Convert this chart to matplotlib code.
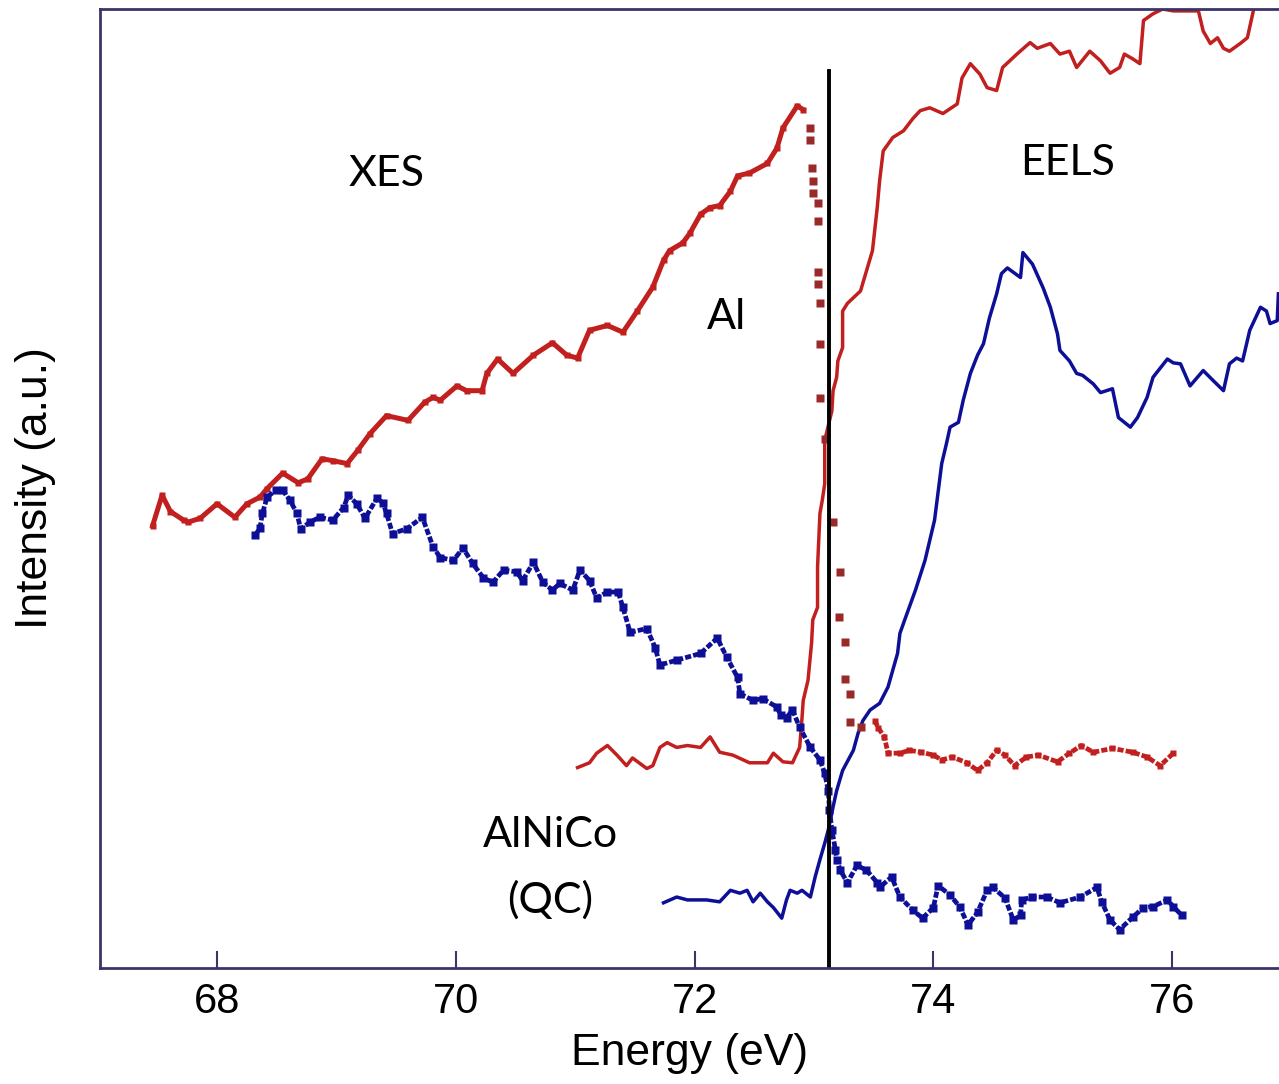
import matplotlib
matplotlib.use("Agg")
import matplotlib.pyplot as plt

# ---------------- data (energy in eV, intensity in a.u.) ----------------
# XES Al (red, dotted) - rising part up to the peak
xes_al_rise_E = [67.46, 67.54, 67.61, 67.72, 67.76, 67.86, 68.00, 68.15, 68.25, 68.36, 68.42,
                 68.55, 68.68, 68.76, 68.88, 68.97, 69.09, 69.18, 69.28, 69.42, 69.60, 69.74,
                 69.81, 69.87, 70.01, 70.09, 70.22, 70.26, 70.35, 70.48, 70.65, 70.81, 70.93,
                 71.02, 71.12, 71.27, 71.40, 71.52, 71.65, 71.74, 71.79, 71.90, 71.96, 72.05,
                 72.13, 72.21, 72.30, 72.36, 72.46, 72.61, 72.69, 72.74, 72.86, 72.91]
xes_al_rise_I = [4.61, 4.93, 4.76, 4.67, 4.65, 4.69, 4.84, 4.70, 4.84, 4.91, 5.00,
                 5.16, 5.06, 5.10, 5.31, 5.29, 5.26, 5.40, 5.57, 5.76, 5.71, 5.90,
                 5.95, 5.92, 6.07, 6.02, 6.02, 6.20, 6.35, 6.20, 6.39, 6.52, 6.39,
                 6.36, 6.65, 6.70, 6.63, 6.85, 7.10, 7.38, 7.48, 7.56, 7.66, 7.86,
                 7.93, 7.95, 8.10, 8.26, 8.29, 8.39, 8.55, 8.76, 8.99, 8.95]
# XES Al - steep fall after the peak (isolated points)
xes_al_fall_E = [72.97, 72.97, 72.98, 72.99, 72.99, 73.03, 73.03, 73.03, 73.03, 73.05, 73.05,
                 73.05, 73.09, 73.16, 73.22, 73.21, 73.26, 73.26, 73.30, 73.30, 73.39]
xes_al_fall_I = [8.76, 8.63, 8.34, 8.21, 8.08, 7.98, 7.79, 7.26, 7.13, 6.93, 6.51,
                 5.94, 5.52, 4.65, 4.13, 3.66, 3.40, 3.01, 2.86, 2.56, 2.51]
# XES Al - flat tail
xes_al_tail_E = [73.51, 73.54, 73.59, 73.62, 73.72, 73.80, 73.90, 74.00, 74.07, 74.16, 74.28,
                 74.37, 74.45, 74.53, 74.60, 74.68, 74.78, 74.88, 75.04, 75.14, 75.24, 75.34,
                 75.50, 75.67, 75.79, 75.90, 76.01]
xes_al_tail_I = [2.58, 2.50, 2.41, 2.24, 2.24, 2.27, 2.25, 2.22, 2.17, 2.20, 2.14,
                 2.06, 2.14, 2.27, 2.22, 2.11, 2.20, 2.22, 2.15, 2.24, 2.32, 2.25,
                 2.29, 2.25, 2.20, 2.11, 2.24]

# XES AlNiCo (blue, dotted)
xes_qc_E = [68.32, 68.36, 68.38, 68.42, 68.49, 68.55, 68.61, 68.67, 68.70, 68.78, 68.86,
            68.97, 69.06, 69.10, 69.17, 69.24, 69.34, 69.39, 69.42, 69.47, 69.59, 69.72,
            69.81, 69.87, 69.98, 70.06, 70.14, 70.23, 70.31, 70.40, 70.51, 70.56, 70.65,
            70.73, 70.81, 70.87, 70.98, 71.04, 71.12, 71.18, 71.27, 71.36, 71.40, 71.46,
            71.60, 71.67, 71.71, 71.85, 72.05, 72.19, 72.27, 72.36, 72.38, 72.49, 72.57,
            72.69, 72.72, 72.77, 72.82, 72.88, 72.97, 73.05, 73.09, 73.12, 73.13, 73.15,
            73.18, 73.19, 73.22, 73.28, 73.36, 73.44, 73.53, 73.55, 73.65, 73.72, 73.83,
            73.91, 74.00, 74.04, 74.14, 74.22, 74.29, 74.37, 74.45, 74.50, 74.60, 74.67,
            74.73, 74.74, 74.83, 74.95, 75.06, 75.23, 75.37, 75.41, 75.48, 75.56, 75.67,
            75.76, 75.84, 75.96, 76.01, 76.08]
xes_qc_I = [4.51, 4.59, 4.74, 4.91, 4.98, 4.98, 4.88, 4.74, 4.58, 4.65, 4.70,
            4.67, 4.80, 4.93, 4.84, 4.69, 4.90, 4.85, 4.74, 4.53, 4.58, 4.70,
            4.39, 4.28, 4.25, 4.38, 4.22, 4.07, 4.02, 4.15, 4.13, 4.04, 4.23,
            4.02, 3.94, 4.01, 3.94, 4.15, 4.04, 3.86, 3.92, 3.92, 3.76, 3.50,
            3.54, 3.34, 3.16, 3.21, 3.28, 3.44, 3.24, 3.03, 2.86, 2.79, 2.81,
            2.72, 2.64, 2.61, 2.69, 2.51, 2.30, 2.17, 2.03, 1.85, 1.65, 1.44,
            1.23, 1.13, 1.02, 0.89, 1.07, 1.02, 0.89, 0.84, 0.95, 0.74, 0.60,
            0.52, 0.63, 0.86, 0.76, 0.64, 0.45, 0.58, 0.81, 0.84, 0.73, 0.50,
            0.55, 0.71, 0.74, 0.74, 0.68, 0.74, 0.84, 0.69, 0.50, 0.40, 0.53,
            0.63, 0.64, 0.71, 0.64, 0.55]

# EELS Al (red, solid)
eels_al_E = [71.02, 71.12, 71.18, 71.27, 71.35, 71.43, 71.48, 71.60, 71.65, 71.71, 71.77,
             71.85, 71.94, 72.05, 72.13, 72.21, 72.32, 72.46, 72.61, 72.66, 72.74, 72.82,
             72.88, 72.90, 72.91, 72.95, 72.98, 72.99, 73.03, 73.03, 73.05, 73.07, 73.09,
             73.09, 73.15, 73.16, 73.19, 73.20, 73.24, 73.24, 73.28, 73.39, 73.44, 73.49,
             73.53, 73.55, 73.58, 73.66, 73.75, 73.83, 73.89, 73.97, 74.08, 74.20, 74.24,
             74.31, 74.39, 74.45, 74.53, 74.58, 74.70, 74.81, 74.87, 74.98, 75.06, 75.14,
             75.20, 75.31, 75.40, 75.48, 75.56, 75.60, 75.67, 75.73, 75.76, 75.84, 75.92,
             76.01, 76.12, 76.22, 76.26, 76.32, 76.38, 76.43, 76.48, 76.57, 76.63, 76.68,
             76.71]
eels_al_I = [2.09, 2.14, 2.24, 2.32, 2.22, 2.11, 2.19, 2.08, 2.11, 2.30, 2.35,
             2.30, 2.32, 2.30, 2.41, 2.25, 2.22, 2.14, 2.14, 2.24, 2.15, 2.14,
             2.30, 2.61, 2.79, 3.00, 3.39, 3.63, 3.76, 4.18, 4.74, 4.88, 5.05,
             5.50, 5.81, 6.02, 6.16, 6.33, 6.47, 6.85, 6.93, 7.06, 7.27, 7.48,
             7.93, 8.21, 8.52, 8.66, 8.73, 8.86, 8.94, 8.97, 8.91, 9.01, 9.28,
             9.43, 9.32, 9.18, 9.15, 9.39, 9.53, 9.65, 9.59, 9.64, 9.53, 9.56,
             9.39, 9.56, 9.46, 9.33, 9.39, 9.53, 9.48, 9.43, 9.88, 9.95, 10.00,
             9.98, 9.98, 9.98, 9.77, 9.64, 9.70, 9.59, 9.56, 9.64, 9.70, 9.98,
             10.19]

# EELS AlNiCo (blue, solid)
eels_qc_E = [71.74, 71.85, 71.94, 72.10, 72.21, 72.30, 72.38, 72.44, 72.49, 72.55, 72.61,
             72.66, 72.73, 72.77, 72.80, 72.86, 72.90, 72.97, 73.01, 73.05, 73.09, 73.12,
             73.16, 73.19, 73.24, 73.33, 73.37, 73.41, 73.47, 73.55, 73.62, 73.70, 73.72,
             73.76, 73.85, 73.93, 74.01, 74.07, 74.11, 74.14, 74.21, 74.25, 74.31, 74.37,
             74.42, 74.47, 74.53, 74.57, 74.62, 74.73, 74.75, 74.83, 74.92, 74.98, 75.04,
             75.06, 75.14, 75.20, 75.25, 75.34, 75.40, 75.50, 75.55, 75.65, 75.71, 75.79,
             75.84, 75.96, 76.01, 76.07, 76.15, 76.26, 76.34, 76.43, 76.48, 76.54, 76.59,
             76.65, 76.74, 76.79, 76.82, 76.88, 76.89]
eels_qc_I = [0.68, 0.74, 0.71, 0.71, 0.69, 0.81, 0.78, 0.81, 0.69, 0.78, 0.69,
             0.63, 0.52, 0.71, 0.81, 0.78, 0.81, 0.74, 0.95, 1.13, 1.30, 1.44,
             1.68, 1.85, 2.06, 2.27, 2.45, 2.58, 2.69, 2.76, 2.93, 3.28, 3.49,
             3.63, 3.94, 4.25, 4.67, 5.26, 5.47, 5.64, 5.69, 5.92, 6.20, 6.39,
             6.51, 6.78, 7.03, 7.24, 7.30, 7.20, 7.46, 7.34, 7.09, 6.89, 6.61,
             6.44, 6.33, 6.20, 6.18, 6.09, 6.00, 6.04, 5.74, 5.64, 5.74, 5.95,
             6.16, 6.35, 6.31, 6.30, 6.07, 6.23, 6.13, 6.02, 6.30, 6.36, 6.33,
             6.65, 6.89, 6.85, 6.72, 6.75, 7.03]

edge_E = 73.13
edge_top = 9.35
x_ticks = [68, 70, 72, 74, 76]
labels = {"XES": (69.42, 8.28), "EELS": (75.12, 8.39), "Al": (72.27, 6.79),
          "AlNiCo": (70.79, 1.39), "(QC)": (70.79, 0.71)}

# ---------------- styling ----------------
RED = "#c21f1f"
RED_DARK = "#9a2a2a"
BLUE = "#0d0f96"
SPINE = "#3a3468"

fig = plt.figure(figsize=(12.79, 10.84), dpi=100)
ax = fig.add_axes([100 / 1279, 116 / 1084, 1179 / 1279, 959 / 1084])

ax.plot(eels_al_E, eels_al_I, color=RED, lw=2.5)
ax.plot(eels_qc_E, eels_qc_I, color=BLUE, lw=2.5)

ax.plot(xes_al_rise_E, xes_al_rise_I, color=RED, lw=3.6, marker="s", ms=5, mec="none")
ax.plot(xes_al_fall_E, xes_al_fall_I, color=RED_DARK, ls="none", marker="s", ms=5.2, mec="none")
ax.plot(xes_al_tail_E, xes_al_tail_I, color=RED, lw=3.4, ls=(0, (1.3, 0.45)), marker="s",
        ms=5, mec="none")
ax.plot(xes_qc_E, xes_qc_I, color=BLUE, lw=3.4, ls=(0, (1.3, 0.45)), marker="s", ms=5.2,
        mec="none")

ax.plot([edge_E, edge_E], [0, edge_top], color="black", lw=2.8)

ax.set_xlim(67.02, 76.895)
ax.set_ylim(0, 10)
ax.set_xticks(x_ticks)
ax.set_xticklabels([str(t) for t in x_ticks], fontsize=30, family="Liberation Sans")
ax.set_yticks([])
ax.tick_params(axis="x", direction="in", length=12, width=1.5, color=SPINE, pad=10)
for side in ["left", "bottom", "top"]:
    ax.spines[side].set_color(SPINE)
    ax.spines[side].set_linewidth(2.0)
ax.spines["right"].set_visible(False)

ax.set_xlabel("Energy (eV)", fontsize=32, family="Liberation Sans", labelpad=8)
ax.set_ylabel("Intensity (a.u.)", fontsize=32, family="Liberation Sans", labelpad=32)

for txt, (x, y) in labels.items():
    ax.text(x, y, txt, fontsize=31, family="Lato", ha="center", va="center", color="black")

fig.savefig("out.png", dpi=100)
